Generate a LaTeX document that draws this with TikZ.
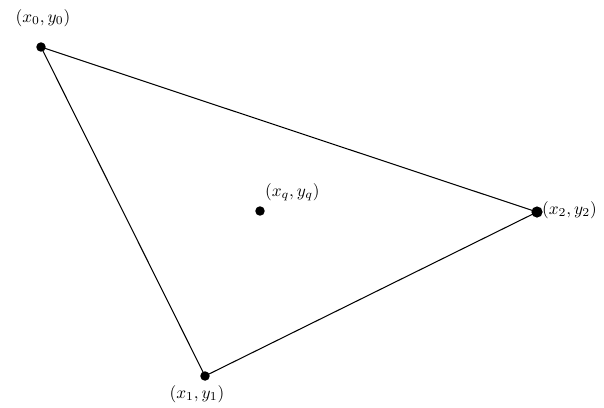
\documentclass[tikz,border=0pt]{standalone}
\begin{document}
\begin{tikzpicture}[x=0.58pt,y=-0.58pt,
  pt/.style={circle,fill=black,inner sep=0pt,minimum size=5.5pt},
  lbl/.style={inner sep=1pt,font=\normalsize}]
\useasboundingbox (0,0) rectangle (604,407);
\node[pt] (p0) at (41,47) {};
\node[pt] (p1) at (205,376) {};
\node[pt,minimum size=6.5pt] (p2) at (537,212) {};
\node[pt] (q) at (260,211) {};
\draw[line width=0.6pt] (p0.center) -- (p1.center) -- (p2.center) -- (p0.center);
\node[lbl] (l0) at (43,18) {$(x_0,y_0)$};
\node[lbl,anchor=west] (l2) at (540,210) {$(x_2,y_2)$};
\node[lbl] (l1) at (197,394) {$(x_1,y_1)$};
\node[lbl,anchor=west] (lq) at (263,192) {$(x_q,y_q)$};
\end{tikzpicture}
\end{document}
